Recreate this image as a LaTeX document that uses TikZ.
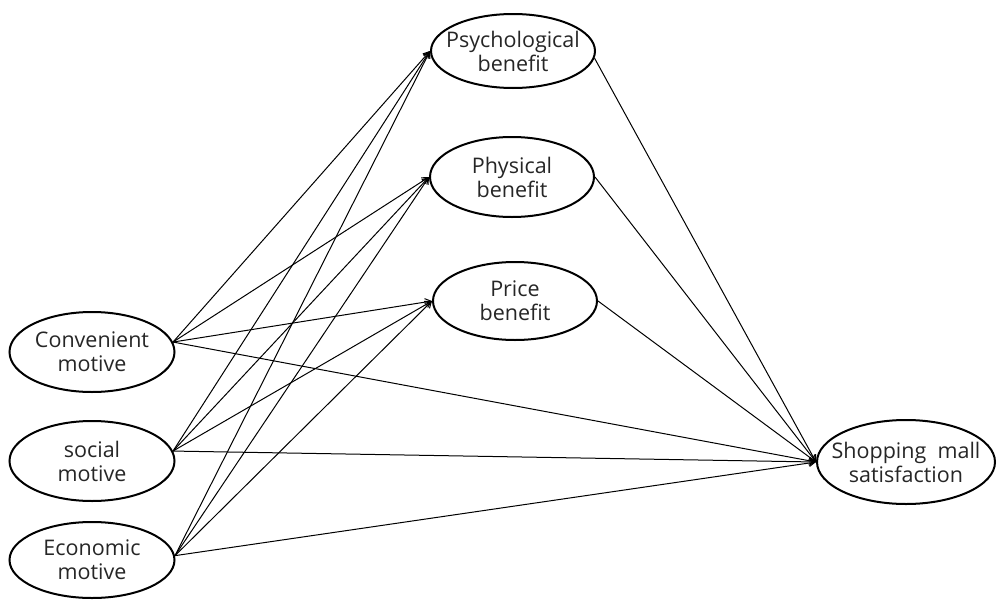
\documentclass[tikz,border=0pt]{standalone}
\usepackage{fontspec}
\setmainfont{Open Sans}
\usetikzlibrary{shapes.geometric,arrows.meta}
\begin{document}
\begin{tikzpicture}[x=1pt,y=-1pt,
  ell/.style={ellipse,draw,line width=2pt,inner xsep=-16pt,inner ysep=-12pt,
    align=center,font=\fontsize{21.5}{24}\selectfont,text=black!85},
  conn/.style={line width=1pt,-{Straight Barb[length=6pt,width=7pt,line width=1pt]}}]
\useasboundingbox (0,0) rectangle (997,600);
\node[ell,minimum width=164pt,minimum height=74pt] (psy) at (513,51) {Psychological\\benefit};
\node[ell,minimum width=164pt,minimum height=80pt] (phy) at (512,177) {Physical\\benefit};
\node[ell,minimum width=164pt,minimum height=78pt] (pri) at (515,301) {Price\\benefit};
\node[ell,minimum width=165pt,minimum height=80pt] (con) at (92,352) {Convenient\\motive};
\node[ell,minimum width=165pt,minimum height=80pt] (soc) at (92,461) {social\\motive};
\node[ell,minimum width=165pt,minimum height=76pt] (eco) at (92,560) {Economic\\motive};
\node[ell,minimum width=178pt,minimum height=84pt] (sat) at (906,462) {Shopping~~mall\\satisfaction};
\foreach \s/\a in {con/7,soc/7,eco/3}{
  \draw[conn] (\s.\a) -- (psy.west);
  \draw[conn] (\s.\a) -- (phy.west);
  \draw[conn] (\s.\a) -- (pri.west);
  \draw[conn] (\s.\a) -- (sat.west);
}
\draw[conn] (psy.-5) -- (sat.west);
\draw[conn] (phy.east) -- (sat.west);
\draw[conn] (pri.east) -- (sat.west);
\end{tikzpicture}
\end{document}
